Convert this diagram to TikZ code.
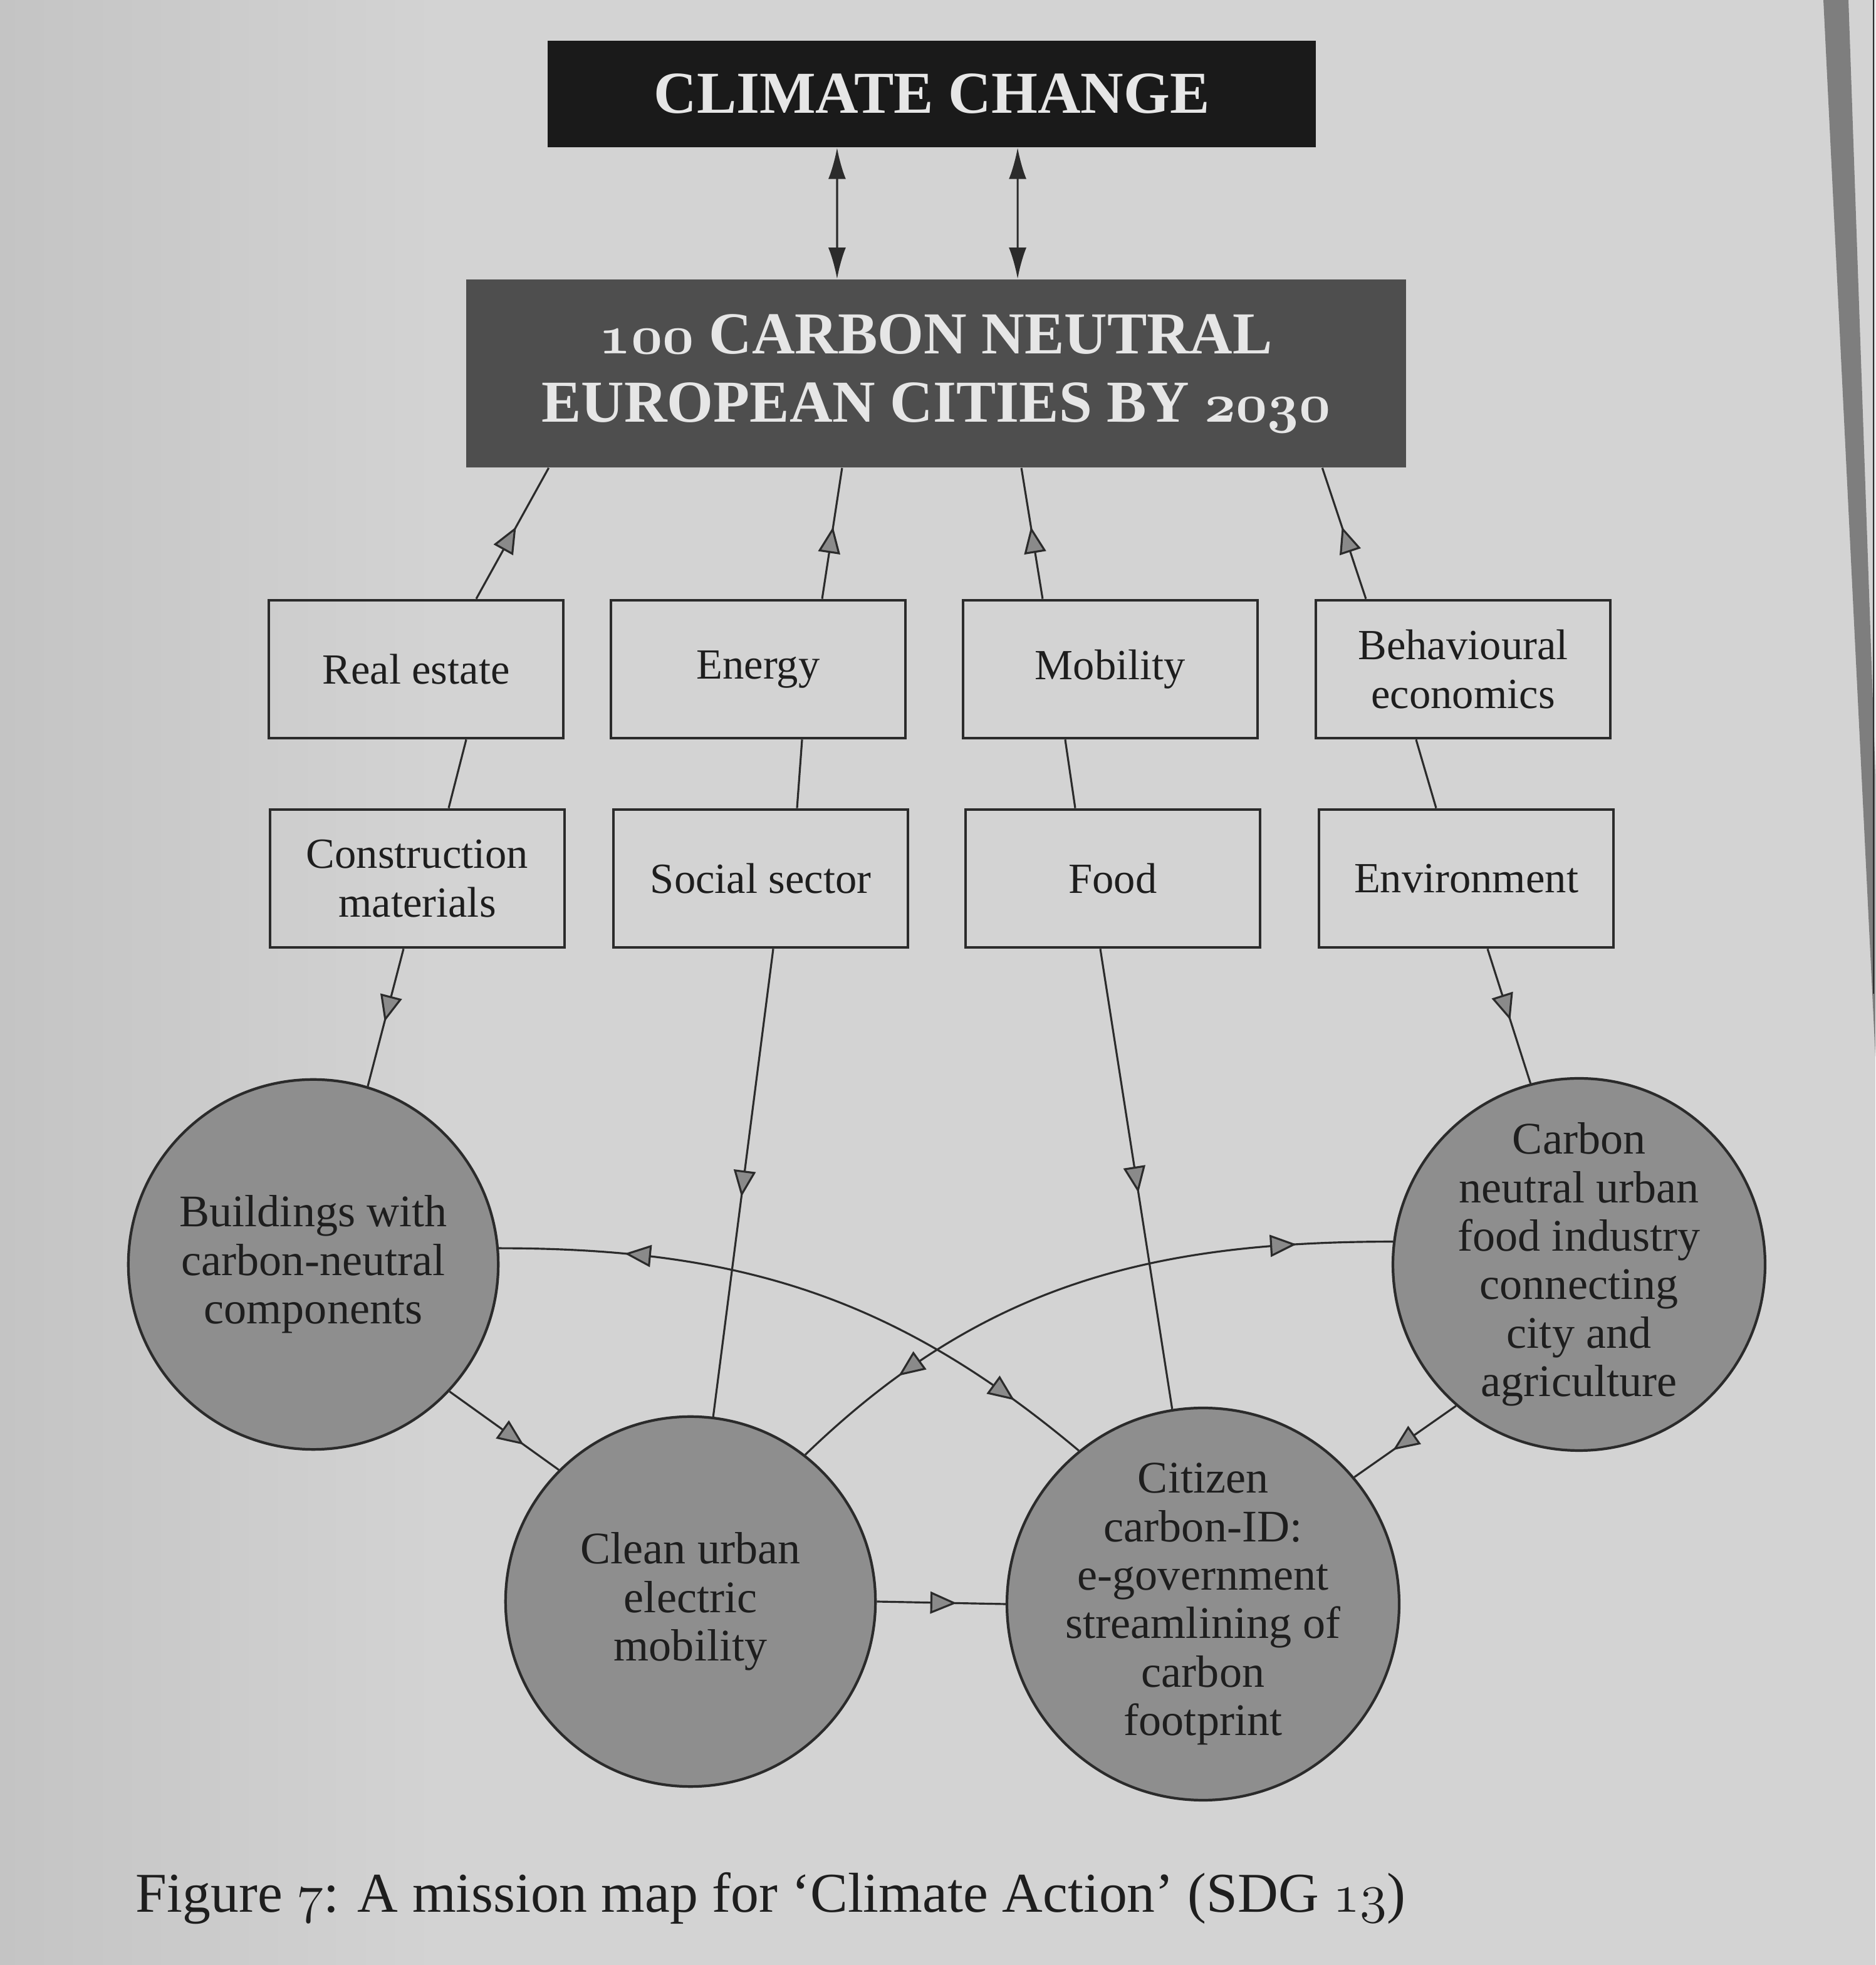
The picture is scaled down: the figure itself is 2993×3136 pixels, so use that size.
\documentclass[tikz,border=0pt]{standalone}
\usepackage{fontspec}
\setmainfont{Liberation Serif}
\usetikzlibrary{arrows.meta,decorations.markings}

% old-style figures taken from the math italic fonts
\newcommand\osfreg[1]{{\usefont{OML}{cmm}{m}{it}#1}}
\newcommand\osfbold[1]{{\usefont{OML}{cmm}{b}{it}#1}}

\definecolor{paper}{HTML}{D3D3D3}
\definecolor{paperdark}{HTML}{C4C4C4}
\definecolor{inkc}{HTML}{1E1E1E}
\definecolor{linec}{HTML}{2B2B2B}
\definecolor{goalfill}{HTML}{8E8E8E}
\definecolor{headfill}{HTML}{8A8A8A}
\definecolor{topfill}{HTML}{1A1A1A}
\definecolor{missionfill}{HTML}{4E4E4E}
\definecolor{lighttext}{HTML}{E6E6E6}
\definecolor{shadowc}{HTML}{7E7E7E}

\tikzset{
  midhead/.tip={Triangle[length=0.42cm,width=0.35cm,fill=headfill]},
  endhead/.tip={Latex[length=0.5cm,width=0.28cm]},
  link/.style={draw=linec, line width=0.9pt},
  midarrow/.style={postaction=decorate,
    decoration={markings, mark=at position #1 with {\arrow{midhead}}}},
  twoheads/.style 2 args={postaction=decorate,
    decoration={markings,
      mark=at position #1 with {\arrowreversed{midhead}},
      mark=at position #2 with {\arrow{midhead}}}},
  topicbox/.style={draw=linec, line width=1.3pt, minimum width=4.7cm,
    minimum height=2.2cm, align=center, text=inkc,
    font=\fontsize{19.5}{22}\selectfont},
  goalcirc/.style={circle, draw=linec, line width=1.2pt, fill=goalfill,
    minimum size=5.9cm, inner sep=0pt, align=center, text=inkc,
    font=\fontsize{20.5}{22}\selectfont},
  banner/.style={align=center, text=lighttext,
    font=\bfseries\fontsize{27}{31}\selectfont},
}

\begin{document}
\begin{tikzpicture}[x=0.01cm,y=0.01cm]
  \useasboundingbox (0,0) rectangle (2993,3136);
  % page
  \fill[paper] (0,0) rectangle (2993,3136);
  \shade[left color=paperdark, right color=paper] (0,0) rectangle (700,3136);
  % shadow of the page edge
  \fill[shadowc] (2910,3136) -- (2950,3136) -- (2993,1900) -- (2993,1450) -- cycle;
  \draw[linec, line width=0.8pt] (2990,3136) -- (2990,1550);

  % headline blocks
  \node[banner, fill=topfill, minimum width=12.26cm, minimum height=1.7cm,
        font=\bfseries\fontsize{27}{30}\selectfont] (cc) at (1487,2986) {CLIMATE CHANGE};
  \node[banner, fill=missionfill, minimum width=15cm, minimum height=3cm] (big) at (1494,2540)
    {\osfbold{100} CARBON NEUTRAL\\EUROPEAN CITIES BY \osfbold{2030}};

  % sectors
  \node[topicbox] (re) at (664,2068) {Real estate};
  \node[topicbox] (en) at (1210,2068) {Energy};
  \node[topicbox] (mo) at (1772,2068) {Mobility};
  \node[topicbox] (be) at (2335,2068) {Behavioural\\economics};
  \node[topicbox] (cm) at (666,1734) {Construction\\materials};
  \node[topicbox] (so) at (1214,1734) {Social sector};
  \node[topicbox] (fo) at (1776,1734) {Food};
  \node[topicbox] (ev) at (2340,1734) {Environment};

  % projects
  \node[goalcirc] (bld) at (500,1118) {Buildings with\\carbon-neutral\\components};
  \node[goalcirc] (cln) at (1102,580) {Clean urban\\electric\\mobility};
  \node[goalcirc, minimum size=6.0cm] (cit) at (1920,576)
    {Citizen\\carbon-ID:\\e-government\\streamlining of\\carbon\\footprint};
  \node[goalcirc] (fdc) at (2520,1118)
    {Carbon\\neutral urban\\food industry\\connecting\\city and\\agriculture};

  % climate change <-> mission
  \draw[link, endhead-endhead] ([xshift=-1.51cm]cc.south) -- ([xshift=-1.58cm]big.north);
  \draw[link, endhead-endhead] ([xshift=1.37cm]cc.south) -- ([xshift=1.30cm]big.north);

  % sectors feed the mission
  \draw[link, midarrow=0.55] ([xshift=0.96cm]re.north) -- ([xshift=-6.18cm]big.south);
  \draw[link, midarrow=0.55] ([xshift=1.02cm]en.north) -- ([xshift=-1.50cm]big.south);
  \draw[link, midarrow=0.55] ([xshift=-1.08cm]mo.north) -- ([xshift=1.36cm]big.south);
  \draw[link, midarrow=0.55] ([xshift=-1.55cm]be.north) -- ([xshift=6.16cm]big.south);

  % sector pairs
  \draw[link] ([xshift=0.80cm]re.south) -- ([xshift=0.50cm]cm.north);
  \draw[link] ([xshift=0.70cm]en.south) -- ([xshift=0.58cm]so.north);
  \draw[link] ([xshift=-0.72cm]mo.south) -- ([xshift=-0.60cm]fo.north);
  \draw[link] ([xshift=-0.75cm]be.south) -- ([xshift=-0.48cm]ev.north);

  % sectors into projects
  \draw[link, midarrow=0.53] ([xshift=-0.22cm]cm.south) -- (bld.73);
  \draw[link, midarrow=0.53] ([xshift=0.20cm]so.south) -- (cln.83);
  \draw[link, midarrow=0.53] ([xshift=-0.20cm]fo.south) -- (cit.99);
  \draw[link, midarrow=0.53] ([xshift=0.34cm]ev.south) -- (fdc.105);

  % links between projects
  \draw[link, midarrow=0.68] (bld.-43) -- (cln.135);
  \draw[link, midarrow=0.62] (fdc.-131) -- (cit.40);
  \draw[link, midarrow=0.62] (cln.0) -- (cit.180);
  \draw[link, twoheads={0.2}{0.87}] (bld.5) to[out=0,in=140] (cit.129);
  \draw[link, twoheads={0.19}{0.85}] (cln.52) to[out=44,in=180] (fdc.173);

  % caption
  \node[anchor=west, text=inkc, inner sep=0pt, font=\fontsize{25.5}{28}\selectfont] (cap) at (216,106)
    {Figure \osfreg{7}: A mission map for ‘Climate Action’ (SDG \osfreg{13})};
\end{tikzpicture}
\end{document}
